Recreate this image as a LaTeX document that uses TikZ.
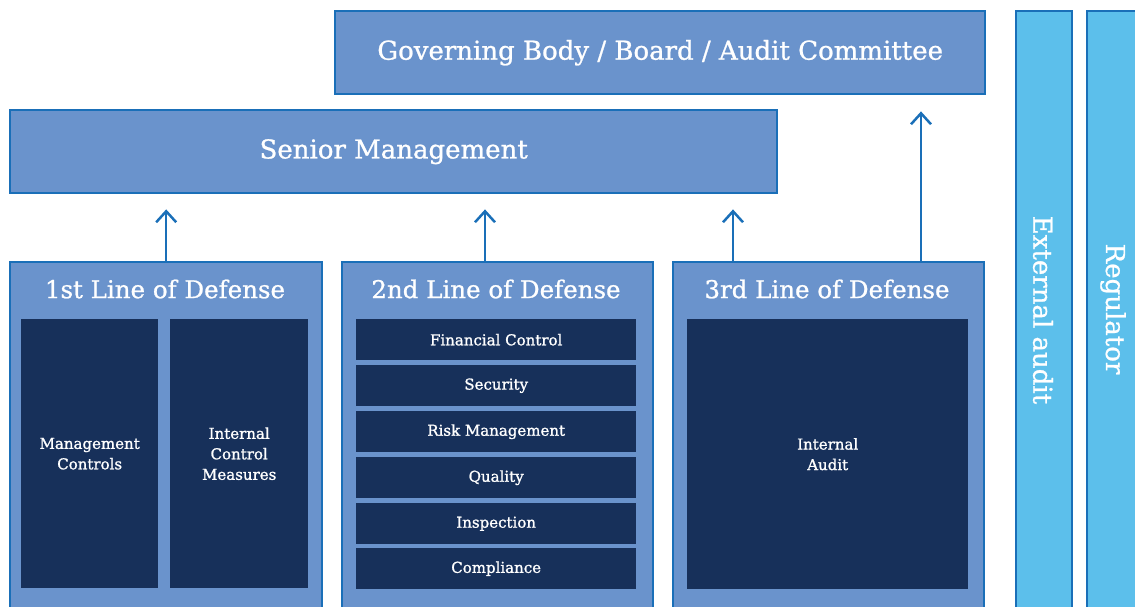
\documentclass[tikz,border=0pt]{standalone}
\usepackage{fontspec}
\setmainfont{DejaVu Serif}
\newfontfamily\semibold[FakeBold=0.9]{DejaVu Serif}
\newfontfamily\smallbold[FakeBold=1.2]{DejaVu Serif}
\usetikzlibrary{arrows.meta,calc}
\definecolor{midblue}{HTML}{6A93CC}
\definecolor{edgeblue}{HTML}{1A6FB8}
\definecolor{navy}{HTML}{17305A}
\definecolor{skyblue}{HTML}{5CBFEB}
\tikzset{
  x=1pt,y=-1pt,
  mainbox/.style={draw=edgeblue,line width=2.4pt,fill=midblue,anchor=north west,inner sep=0pt},
  sidebox/.style={draw=edgeblue,line width=2.4pt,fill=skyblue,anchor=north west,inner sep=0pt},
  darkbox/.style={fill=navy,anchor=north west,inner sep=0pt},
  headtext/.style={text=white,font=\semibold\fontsize{26}{30}\selectfont},
  linetext/.style={text=white,font=\semibold\fontsize{24.5}{28}\selectfont},
  smalltext/.style={text=white,font=\smallbold\fontsize{15}{20.5}\selectfont,align=center},
  uparrow/.style={draw=edgeblue,line width=2.5pt,-{Straight Barb[length=11pt,width=20pt,line width=2.5pt]}},
}
\begin{document}
\begin{tikzpicture}
\useasboundingbox (0,0) rectangle (1135,607);
\clip (0,0) rectangle (1135,607);
% top boxes
\node[mainbox,minimum width=650,minimum height=83] (gb) at (334,10) {};
\node[headtext] (gbt) at (gb.center) {Governing Body / Board / Audit Committee};
\node[mainbox,minimum width=767,minimum height=83] (sm) at (9,109) {};
\node[headtext] (smt) at (sm.center) {Senior Management};
% side boxes
\node[sidebox,minimum width=56,minimum height=620] (ea) at (1015,10) {};
\node[headtext,rotate=-90] (eat) at (1043,310) {External audit};
\node[sidebox,minimum width=60,minimum height=620] (rg) at (1086,10) {};
\node[headtext,rotate=-90] (rgt) at (1113,309) {Regulator};
% lines of defense
\node[mainbox,minimum width=312,minimum height=370] (l1) at (9,261) {};
\node[linetext] (l1t) at (165,289) {1st Line of Defense};
\node[mainbox,minimum width=311,minimum height=370] (l2) at (341,261) {};
\node[linetext] (l2t) at (496,289) {2nd Line of Defense};
\node[mainbox,minimum width=311,minimum height=370] (l3) at (672,261) {};
\node[linetext] (l3t) at (827,289) {3rd Line of Defense};
% 1st inner
\node[darkbox,minimum width=137,minimum height=269,smalltext] (mc) at (21,319) {Management\\Controls};
\node[darkbox,minimum width=138,minimum height=269,smalltext] (icm) at (170,319) {Internal\\Control\\Measures};
% 2nd inner
\node[darkbox,minimum width=280,minimum height=41,smalltext] (fc) at (356,319) {Financial Control};
\node[darkbox,minimum width=280,minimum height=41,smalltext] (se) at (356,365) {Security};
\node[darkbox,minimum width=280,minimum height=41,smalltext] (rm) at (356,411) {Risk Management};
\node[darkbox,minimum width=280,minimum height=41,smalltext] (qu) at (356,457) {Quality};
\node[darkbox,minimum width=280,minimum height=41,smalltext] (in) at (356,503) {Inspection};
\node[darkbox,minimum width=280,minimum height=41,smalltext] (co) at (356,548) {Compliance};
% 3rd inner
\node[darkbox,minimum width=281,minimum height=270,smalltext] (ia) at (687,319) {Internal\\Audit};
% arrow anchors
\coordinate (a1s) at (l1.north);
\coordinate (a2s) at (485,261);
\coordinate (a3s) at (733,261);
\coordinate (a4s) at (921,261);
% arrows
\draw[uparrow,shorten >=15pt] (a1s) -- (a1s |- sm.south);
\draw[uparrow,shorten >=15pt] (a2s) -- (a2s |- sm.south);
\draw[uparrow,shorten >=15pt] (a3s) -- (a3s |- sm.south);
\draw[uparrow,shorten >=16pt] (a4s) -- (a4s |- gb.south);
\end{tikzpicture}
\end{document}
